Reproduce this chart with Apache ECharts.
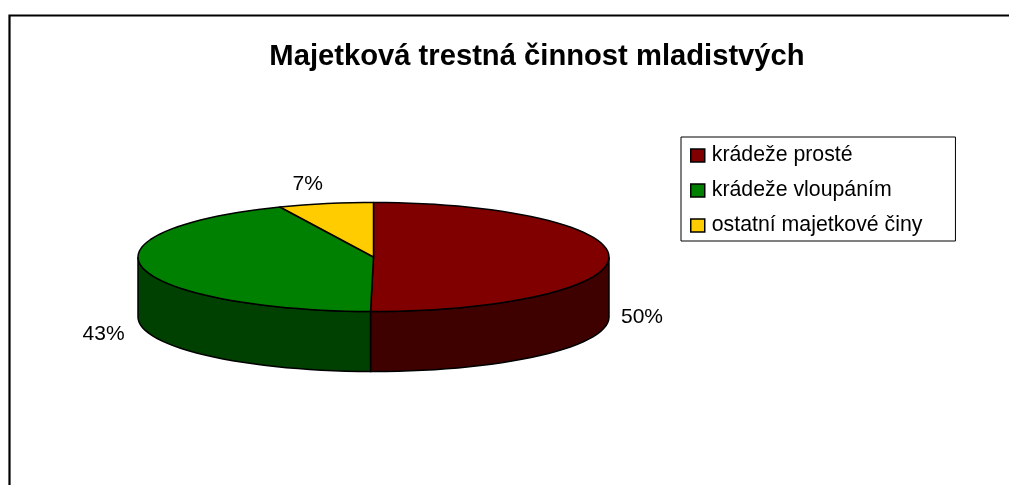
<!DOCTYPE html>
<html>
<head>
<meta charset="utf-8">
<style>html,body{margin:0;padding:0;background:#fff}#c{width:1009px;height:485px}</style>
<script src="https://cdn.jsdelivr.net/npm/echarts@6/dist/echarts.min.js"></script>
</head>
<body>
<div id="c"></div>
<script>
const titleText = 'Majetková trestná činnost mladistvých';
const categories = ['krádeže prosté', 'krádeže vloupáním', 'ostatní majetkové činy'];
const values = [50.2, 43.3, 6.5];
const topColors = ['#800000', '#008000', '#FFCC00'];
const sideColors = ['#3f0000', '#004000', '#7f6600'];
const labelOffsets = [[33, 60], [-39, 66], [-18, -19]];

const FONT = '"Liberation Sans", Arial, sans-serif';
const cx = 373.5, cy = 257, rx = 235.5, ry = 54.5, depth = 60, STEP = 3;
const total = values.reduce((a, b) => a + b, 0);
const rad = d => d * Math.PI / 180;
const rim = d => [cx + rx * Math.sin(rad(d)), cy - ry * Math.cos(rad(d))];

function arcPoints(a0, a1) {
  const pts = [];
  for (let a = a0; a < a1; a += STEP) pts.push(rim(a));
  pts.push(rim(a1));
  return pts;
}

function sliceRenderer(i) {
  return function () {
    const before = values.slice(0, i).reduce((a, b) => a + b, 0);
    const a0 = before / total * 360;
    const a1 = (before + values[i]) / total * 360;
    const children = [];
    const s0 = Math.max(a0, 90), s1 = Math.min(a1, 270);
    if (s1 > s0) {
      const upper = arcPoints(s0, s1);
      const lower = upper.map(p => [p[0], p[1] + depth]).reverse();
      children.push({
        type: 'polygon',
        shape: { points: upper.concat(lower) },
        style: { fill: sideColors[i], stroke: '#000', lineWidth: 1.5 }
      });
    }
    children.push({
      type: 'polygon',
      shape: { points: [[cx, cy]].concat(arcPoints(a0, a1)) },
      style: { fill: topColors[i], stroke: '#000', lineWidth: 1.5, lineJoin: 'round' }
    });
    const mid = rim((a0 + a1) / 2);
    children.push({
      type: 'text',
      z2: 10,
      style: {
        x: mid[0] + labelOffsets[i][0],
        y: mid[1] + labelOffsets[i][1],
        text: Math.round(values[i] / total * 100) + '%',
        font: '21px ' + FONT,
        fill: '#000',
        align: 'center',
        verticalAlign: 'middle'
      }
    });
    return { type: 'group', children };
  };
}

const chart = echarts.init(document.getElementById('c'));
chart.setOption({
  animation: false,
  backgroundColor: '#fff',
  title: {
    text: titleText,
    left: 537,
    top: 57,
    padding: 0,
    textAlign: 'center',
    textVerticalAlign: 'middle',
    textStyle: { fontFamily: FONT, fontSize: 29.2, fontWeight: 'bold', color: '#000' }
  },
  legend: {
    orient: 'vertical',
    left: 681,
    top: 137,
    padding: [8, 33, 5, 9],
    backgroundColor: '#fff',
    borderColor: '#000',
    borderWidth: 1,
    borderRadius: 0,
    itemWidth: 14,
    itemHeight: 13,
    itemGap: 14,
    icon: 'rect',
    selectedMode: false,
    data: categories,
    textStyle: { fontFamily: FONT, fontSize: 21.3, color: '#000', padding: [0, 0, 0, 2] },
    itemStyle: { borderColor: '#000', borderWidth: 1.5 }
  },
  graphic: [{
    type: 'polyline',
    shape: { points: [[9.5, 485], [9.5, 15.5], [1009, 15.5]] },
    style: { fill: null, stroke: '#000', lineWidth: 2.2 },
    silent: true
  }],
  series: categories.map((name, i) => ({
    type: 'custom',
    name,
    coordinateSystem: 'none',
    silent: true,
    itemStyle: { color: topColors[i] },
    data: [[values[i]]],
    renderItem: sliceRenderer(i)
  }))
});
</script>
</body>
</html>
